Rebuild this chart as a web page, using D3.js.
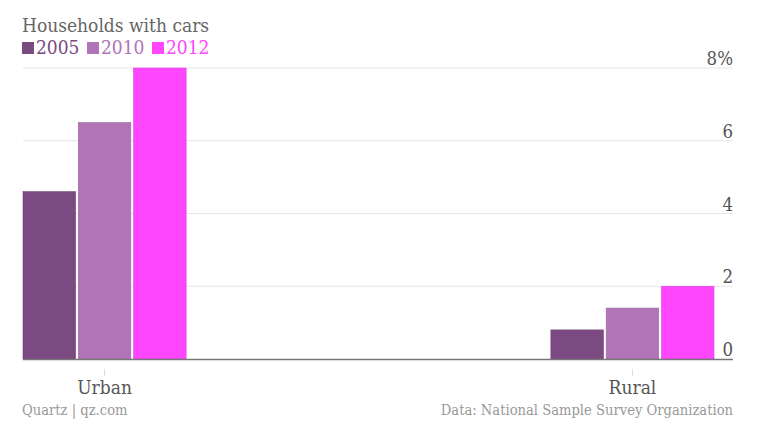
<!DOCTYPE html>
<html>
<head>
<meta charset="utf-8">
<script src="https://cdn.jsdelivr.net/npm/d3@7"></script>
<style>
  body { margin: 0; background: #fff; }
  svg { display: block; font-family: "DejaVu Serif Condensed", "DejaVu Serif", serif; font-stretch: condensed; }
</style>
</head>
<body>
<svg id="chart" width="758" height="434"></svg>
<script>
const groups = ['Urban', 'Rural'];
const years = ['2005', '2010', '2012'];
const values2005 = [4.6, 0.8];
const values2010 = [6.5, 1.4];
const values2012 = [8.0, 2.0];
const yTicks = [0, 2, 4, 6, 8];
const colors = ['#7c4a82', '#b074b7', '#fd46fd'];

const series = [values2005, values2010, values2012];

const plotLeft = 23, plotRight = 714, gridRight = 733;
const plotTop = 68, plotBottom = 359;

const svg = d3.select('#chart');

const x0 = d3.scaleBand()
    .domain(groups)
    .range([plotLeft, plotRight])
    .paddingInner(0.691)
    .paddingOuter(0);

const x1 = d3.scaleBand()
    .domain(years)
    .range([0, x0.bandwidth()])
    .paddingInner(0.05);

const y = d3.scaleLinear()
    .domain([0, 8])
    .range([plotBottom, plotTop]);

// Gridlines
svg.append('g')
    .selectAll('line')
    .data(yTicks.filter(d => d > 0))
    .join('line')
    .attr('x1', plotLeft)
    .attr('x2', gridRight)
    .attr('y1', d => y(d))
    .attr('y2', d => y(d))
    .attr('stroke', '#e6e6e6')
    .attr('stroke-width', 1);

// Y tick labels
svg.append('g')
    .selectAll('text')
    .data(yTicks)
    .join('text')
    .attr('x', gridRight)
    .attr('y', d => y(d) - 3)
    .attr('text-anchor', 'end')
    .style('font-size', '18.5px')
    .style('fill', '#555')
    .text(d => d === 8 ? '8%' : d);

// Bars
const grp = svg.append('g')
    .selectAll('g')
    .data(groups)
    .join('g')
    .attr('transform', d => `translate(${x0(d)},0)`);

grp.selectAll('rect')
    .data((g, gi) => years.map((yr, i) => ({ year: yr, value: series[i][gi], i })))
    .join('rect')
    .attr('x', d => x1(d.year))
    .attr('width', x1.bandwidth())
    .attr('y', d => y(d.value))
    .attr('height', d => plotBottom - y(d.value))
    .attr('fill', d => colors[d.i])
    .attr('stroke', d => d3.color(colors[d.i]).darker(0.3))
    .attr('stroke-width', 0.6);

// Baseline
svg.append('line')
    .attr('x1', plotLeft)
    .attr('x2', gridRight)
    .attr('y1', plotBottom + 0.5)
    .attr('y2', plotBottom + 0.5)
    .attr('stroke', '#777')
    .attr('stroke-width', 1.5);

// X axis ticks + labels
const xa = svg.append('g');
xa.selectAll('line')
    .data(groups)
    .join('line')
    .attr('x1', d => x0(d) + x0.bandwidth() / 2)
    .attr('x2', d => x0(d) + x0.bandwidth() / 2)
    .attr('y1', 369)
    .attr('y2', 376)
    .attr('stroke', '#ddd');
xa.selectAll('text')
    .data(groups)
    .join('text')
    .attr('x', d => x0(d) + x0.bandwidth() / 2)
    .attr('y', 394)
    .attr('text-anchor', 'middle')
    .style('font-size', '19px')
    .style('fill', '#555')
    .text(d => d);

// Title
svg.append('text')
    .attr('x', 22)
    .attr('y', 32)
    .style('font-size', '19px')
    .style('fill', '#666')
    .text('Households with cars');

// Legend
const legendX = [22, 87, 152];
const legend = svg.append('g')
    .selectAll('g')
    .data(years)
    .join('g')
    .attr('transform', (d, i) => `translate(${legendX[i]},0)`);
legend.append('rect')
    .attr('x', 0)
    .attr('y', 42)
    .attr('width', 12)
    .attr('height', 12)
    .attr('fill', (d, i) => colors[i]);
legend.append('text')
    .attr('x', 14)
    .attr('y', 54)
    .style('font-size', '19px')
    .style('fill', (d, i) => colors[i])
    .text(d => d);

// Footer
svg.append('text')
    .attr('x', 22)
    .attr('y', 415)
    .style('font-size', '14.6px')
    .style('fill', '#999')
    .text('Quartz | qz.com');
svg.append('text')
    .attr('x', gridRight)
    .attr('y', 415)
    .attr('text-anchor', 'end')
    .style('font-size', '14.6px')
    .style('fill', '#999')
    .text('Data: National Sample Survey Organization');
</script>
</body>
</html>
